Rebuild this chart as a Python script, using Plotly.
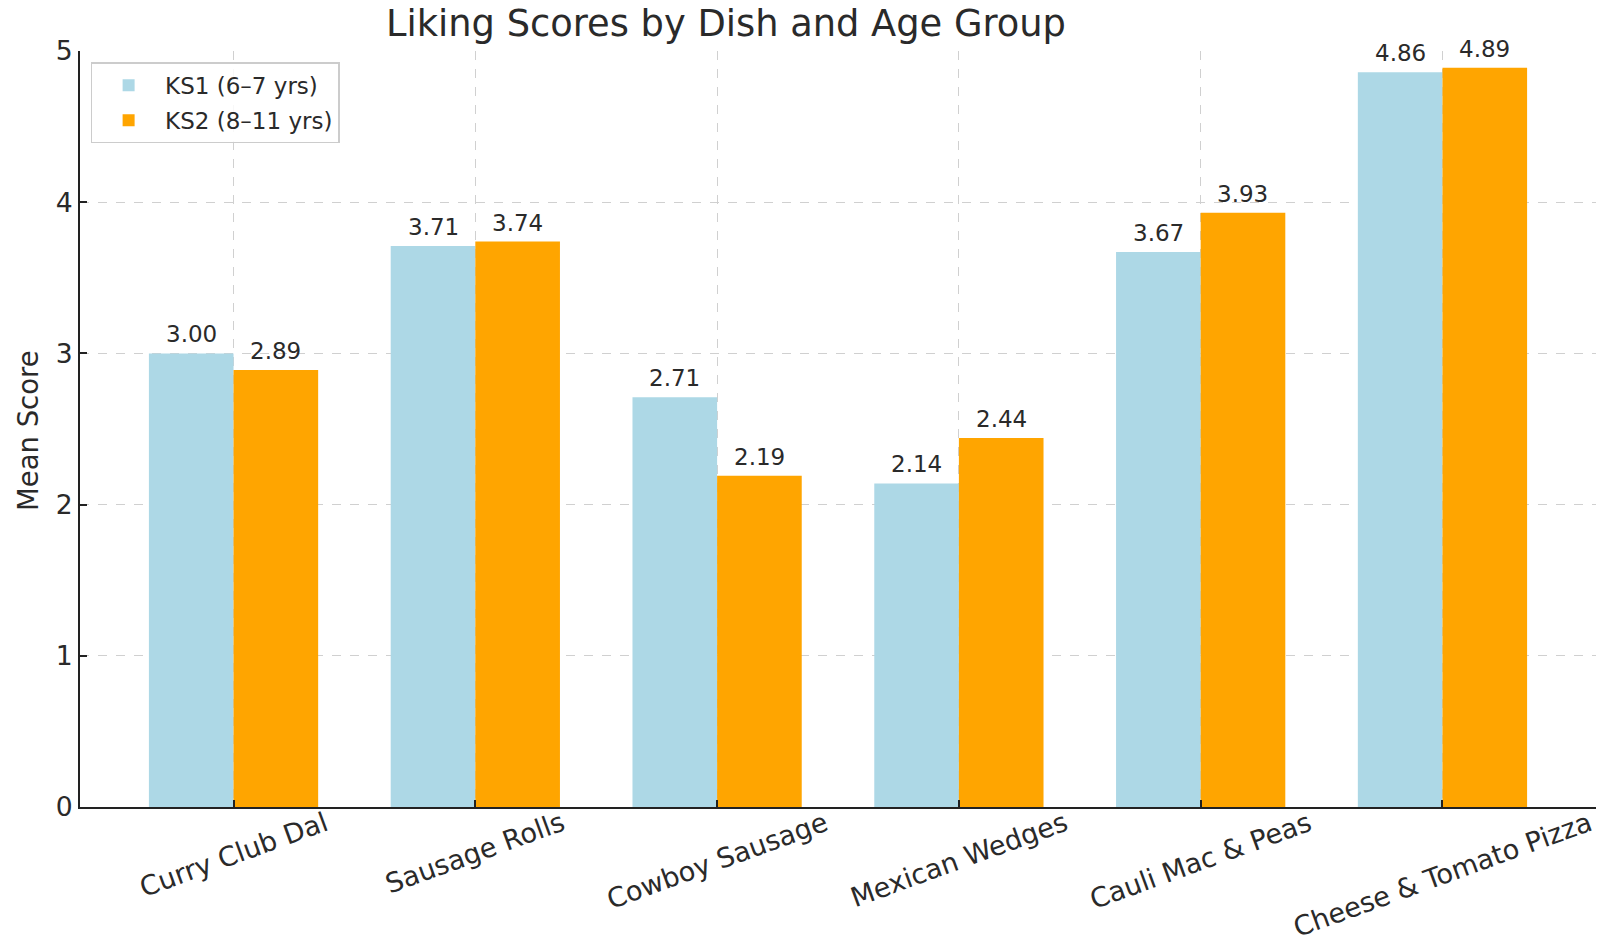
import numpy as np
import plotly.graph_objects as go

dishes = ["Curry Club Dal", "Sausage Rolls", "Cowboy Sausage", "Mexican Wedges",
          "Cauli Mac & Peas", "Cheese & Tomato Pizza"]
ks1_scores = [3.00, 3.71, 2.71, 2.14, 3.67, 4.86]
ks2_scores = [2.89, 3.74, 2.19, 2.44, 3.93, 4.89]
series_names = ["KS1 (6–7 yrs)", "KS2 (8–11 yrs)"]
y_ticks = [0, 1, 2, 3, 4, 5]

FONT = "DejaVu Sans"
TXT = "#2a2a2a"
bar_w = 0.35
idx = np.arange(len(dishes))
x1 = idx - bar_w / 2
x2 = idx + bar_w / 2

fig = go.Figure()
fig.add_trace(go.Bar(x=x1, y=ks1_scores, width=bar_w, name=series_names[0],
                     marker=dict(color="#ADD8E6", line=dict(width=0)), legendgroup="a"))
fig.add_trace(go.Bar(x=x2, y=ks2_scores, width=bar_w, name=series_names[1],
                     marker=dict(color="#FFA500", line=dict(width=0)), legendgroup="b"))

annotations = []
for xs, vals in ((x1, ks1_scores), (x2, ks2_scores)):
    for xv, v in zip(xs, vals):
        annotations.append(dict(x=xv, y=v, xref="x", yref="y", text=f"{v:.2f}",
                                showarrow=False, yanchor="bottom", xanchor="center",
                                yshift=4, font=dict(family=FONT, size=23, color=TXT)))
for i, d in enumerate(dishes):
    annotations.append(dict(x=i, y=0, xref="x", yref="y", text=d, showarrow=False,
                            textangle=-20, xanchor="center", yanchor="top", yshift=2,
                            borderpad=0,
                            font=dict(family=FONT, size=27.2, color=TXT)))
annotations.append(dict(x=(28 - 80) / 1516, y=(807 - 431) / 756, xref="paper", yref="paper",
                        text="Mean Score", showarrow=False, textangle=-90,
                        xanchor="center", yanchor="middle",
                        font=dict(family=FONT, size=27.5, color=TXT)))

fig.update_layout(
    width=1607, height=947,
    margin=dict(l=80, r=11, t=51, b=140),
    paper_bgcolor="white", plot_bgcolor="white",
    font=dict(family=FONT, color=TXT),
    title=dict(text="Liking Scores by Dish and Age Group", xref="container", yref="container",
               x=726 / 1607, y=1 - 23 / 947, xanchor="center", yanchor="middle",
               font=dict(family=FONT, size=36.8, color=TXT)),
    barmode="overlay",
    showlegend=True,
    legend=dict(x=0.007, y=0.985, xanchor="left", yanchor="top",
                bgcolor="rgba(255,255,255,0.85)", bordercolor="#cccccc", borderwidth=1.5,
                font=dict(family=FONT, size=23, color=TXT), itemwidth=63,
                tracegroupgap=2),
    xaxis=dict(range=[-0.635, len(dishes) - 1 + 0.635], tickvals=list(idx),
               showticklabels=False,
               showgrid=True, gridcolor="#d0d0d0", griddash="dash", gridwidth=1,
               showline=True, linecolor="#222222", linewidth=2,
               ticks="inside", ticklen=7, tickwidth=1.5, tickcolor="#222222", zeroline=False),
    yaxis=dict(range=[0, 5], tickvals=y_ticks, showgrid=True, gridcolor="#d0d0d0",
               griddash="dash", gridwidth=1, showline=True, linecolor="#222222", linewidth=2,
               ticks="inside", ticklen=7, tickwidth=1.5, tickcolor="#222222", zeroline=False,
               tickfont=dict(family=FONT, size=26.6, color=TXT)),
    annotations=annotations,
)
fig.write_html("out.html")
